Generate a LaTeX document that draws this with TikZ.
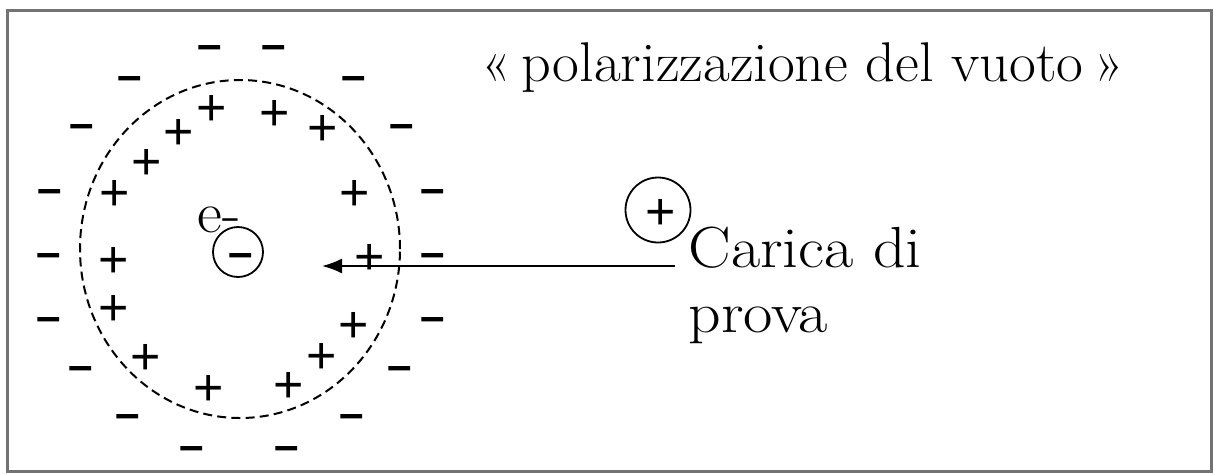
\documentclass[tikz,border=0pt]{standalone}
\usepackage{fontspec}
\newfontfamily\chfont{Liberation Sans}
\usetikzlibrary{arrows.meta}
\tikzset{
  chplus/.style={font=\chfont\fontsize{26}{26}\selectfont, inner sep=0pt, anchor=north, yshift=6.1pt},
  chminus/.style={font=\chfont\bfseries\fontsize{22}{22}\selectfont, inner sep=0pt, anchor=north, yshift=1.2pt},
  ring/.style={draw, circle, line width=0.9pt, inner sep=0pt},
  bigtext/.style={font=\fontsize{29}{32.5}\selectfont, inner sep=0pt, anchor=base west},
  frame/.style={draw=black!55, line width=1.5pt},
  shell/.style={draw, line width=1pt, dash pattern=on 4.5pt off 2.6pt},
  probe/.style={line width=1pt, -{Latex[length=10pt,width=7.5pt]}}
}
\begin{document}
\begin{tikzpicture}[x=0.5pt,y=-0.5pt]
\useasboundingbox (0,0) rectangle (1214,473);
\draw[frame] (7,10) rectangle (1211,471);

% polarization shell
\path[shell] (240,249) ellipse [x radius=80pt, y radius=84.5pt];

% electron
\node[ring, minimum size=25pt] (el) at (238,252) {};
\node[chminus] (elsign) at (241,256) {–};
\node[bigtext] (elab) at (197,232) {\scalebox{1.05}[1]{e-}};

% test charge
\node[ring, minimum size=32.5pt] (tc) at (658,210) {};
\node[chplus] (tcsign) at (661,211) {+};

% title
\node[font=\fontsize{28}{30}\selectfont, inner sep=0pt, anchor=base west] (title) at (481,81)
  {\scalebox{1.04}[1]{«\hspace{5pt}polarizzazione del vuoto\hspace{5pt}»}};

% label
\node[bigtext] (car) at (688,267) {\scalebox{1.1}[1]{Carica di}};
\node[bigtext] (car2) at (688,332) {\scalebox{1.1}[1]{prova}};

% arrow
\coordinate (astart) at (675,266);
\coordinate (atip) at (322,266);

% inner plus charges
\foreach \i/\p in {p1/{212,107}, p2/{275,112}, p3/{179,131}, p4/{323,127}, p5/{147,161},
  p6/{115,192}, p7/{355,192}, p8/{114,259}, p9/{370,256}, p10/{114,307}, p11/{354,324},
  p12/{146,356}, p13/{322,355}, p14/{209,387}, p15/{289,384}}
  \node[chplus] (\i) at (\p) {+};

% outer minus charges
\foreach \i/\p in {m1/{210,48}, m2/{274,48}, m3/{130,79}, m4/{354,79}, m5/{82,127}, m6/{402,127},
  m7/{50,192}, m8/{433,192}, m9/{49,256}, m10/{433,256}, m11/{49,320}, m12/{433,320},
  m13/{81,368}, m14/{400,368}, m15/{128,416}, m16/{352,416}, m17/{192,448}, m18/{287,448}}
  \node[chminus] (\i) at (\p) {–};

\draw[probe] (astart) -- (atip);
\end{tikzpicture}
\end{document}
